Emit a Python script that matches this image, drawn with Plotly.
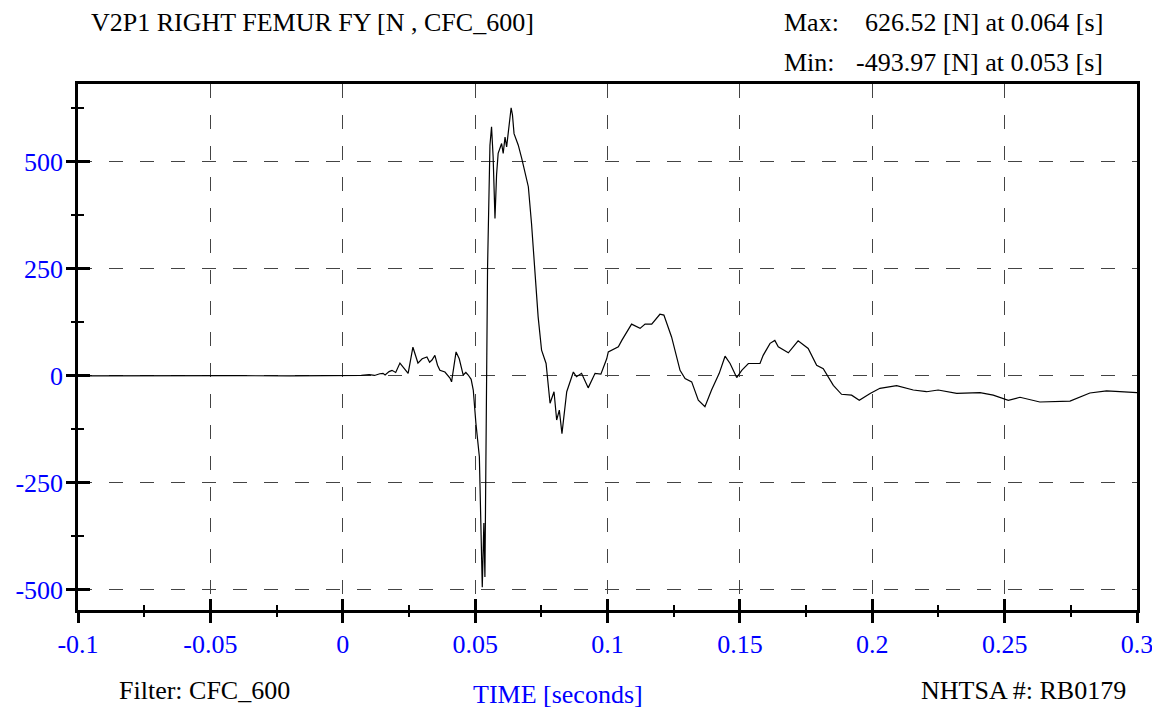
import plotly.graph_objects as go

# hand-read trace of the femur Fy channel
time_s = [-0.100, -0.080, -0.060, -0.040, -0.020, 0.000, 0.004, 0.007, 0.010, 0.012,
          0.014, 0.0152, 0.016, 0.0175, 0.0186, 0.020, 0.0216, 0.023, 0.0247, 0.0265,
          0.0275, 0.0284, 0.030, 0.0318, 0.0328, 0.0337, 0.0348, 0.0358, 0.0367, 0.0386,
          0.0405, 0.0411, 0.0428, 0.044, 0.0455, 0.0465, 0.0474, 0.0485, 0.0493, 0.0503,
          0.0516, 0.0521, 0.0527, 0.0533, 0.0537, 0.0543, 0.0547, 0.0556, 0.0562, 0.0568,
          0.0575, 0.0581, 0.0587, 0.0600, 0.0606, 0.0613, 0.0619, 0.0636, 0.0641, 0.0647,
          0.0663, 0.0676, 0.0701, 0.0713, 0.0726, 0.0738, 0.0751, 0.0768, 0.0783, 0.0798,
          0.0808, 0.0818, 0.0828, 0.0846, 0.0871, 0.0883, 0.0902, 0.0927, 0.0953, 0.0975,
          0.0997, 0.1003, 0.1041, 0.1054, 0.1091, 0.1123, 0.1142, 0.1167, 0.1198, 0.1213,
          0.1242, 0.1274, 0.1293, 0.1318, 0.1343, 0.1368, 0.1393, 0.1422, 0.1444, 0.1463,
          0.1488, 0.1507, 0.1532, 0.1576, 0.1588, 0.1614, 0.1632, 0.1645, 0.1683, 0.1720,
          0.1758, 0.1790, 0.1815, 0.1853, 0.1884, 0.1922, 0.1951, 0.1992, 0.2029, 0.2092,
          0.2155, 0.2205, 0.2249, 0.2319, 0.2407, 0.2457, 0.2514, 0.2558, 0.2633, 0.2747,
          0.2822, 0.2885, 0.2935, 0.3000]
force_n = [0, 0.5, 0, 0.5, 0, 0.5, 0, 1, 3, 1,
           5, 6, 2, 10, 13, 8, 30, 20, 6, 67,
           45, 30, 40, 44, 32, 37, 48, 25, 13, 9,
           -5, -14, 56, 40, 2, 8, 2, -8, -33, -111,
           -189, -314, -493.97, -344, -470, -33, 255, 539, 582, 512,
           368, 470, 520, 543, 520, 558, 535, 626.52, 610, 566,
           539, 508, 442, 356, 247, 138, 60, 29, -64, -37,
           -103, -80, -135, -37, 9, -2, 6, -28, 6, 4,
           40, 56, 68, 83, 121, 111, 121, 121, 144, 142,
           91, 13, -6, -14, -57, -72, -33, 6, 46, 29,
           -4, 13, 29, 29, 48, 76, 83, 68, 54, 82,
           64, 25, 17, -22, -43, -45, -57, -41, -29, -23,
           -33, -37, -33, -41, -39, -45, -57, -50, -61, -59,
           -40, -35, -37, -39]

x_tick_vals = [-0.1, -0.05, 0, 0.05, 0.1, 0.15, 0.2, 0.25, 0.3]
x_tick_text = ["-0.1", "-0.05", "0", "0.05", "0.1", "0.15", "0.2", "0.25", "0.3"]
y_tick_vals = [-500, -250, 0, 250, 500]
y_tick_text = ["-500", "-250", "0", "250", "500"]

FONT = "Liberation Serif"
BLUE = "#0000ff"
x_range = [-0.1, 0.3]
y_range = [-547, 682]

fig = go.Figure()
fig.add_trace(go.Scatter(x=time_s, y=force_n, mode="lines",
                         line=dict(color="black", width=1.2), showlegend=False))
# empty trace so the overlay axes (outside ticks) get drawn
fig.add_trace(go.Scatter(x=[], y=[], xaxis="x2", yaxis="y2", showlegend=False))

grid = dict(showgrid=True, gridcolor="#444444", gridwidth=1, griddash="14px,17px")

# page body adds 8px, so the figure is 8px smaller and shifted margins
fig.update_layout(
    width=1152, height=700,
    margin=dict(l=70, r=23, t=76, b=98),
    paper_bgcolor="white", plot_bgcolor="white",
    font=dict(family=FONT, size=26, color="black"),
    # main axes: inside half of the ticks, labels, grid, frame
    xaxis=dict(range=x_range, tickmode="array", tickvals=x_tick_vals, ticktext=x_tick_text,
               ticks="inside", ticklen=11, tickwidth=2.5, tickcolor="black", ticklabelstandoff=9,
               minor=dict(ticks="inside", ticklen=5, tickwidth=2, tickcolor="black",
                          tick0=0, dtick=0.025, showgrid=False),
               showline=True, linewidth=2.5, linecolor="black", mirror=True, automargin=False,
               zeroline=False, tickfont=dict(family=FONT, size=26, color=BLUE), **grid),
    yaxis=dict(range=y_range, tickmode="array", tickvals=y_tick_vals, ticktext=y_tick_text,
               ticks="inside", ticklen=12, tickwidth=2.5, tickcolor="black", ticklabelstandoff=7,
               minor=dict(ticks="inside", ticklen=6, tickwidth=2, tickcolor="black",
                          tick0=0, dtick=125, showgrid=False),
               showline=True, linewidth=2.5, linecolor="black", mirror=True, automargin=False,
               zeroline=False, tickfont=dict(family=FONT, size=26, color=BLUE), **grid),
    # overlay axes: outside half of the ticks
    xaxis2=dict(range=x_range, overlaying="x", anchor="y2", tickmode="array", tickvals=x_tick_vals,
                ticks="outside", ticklen=12, tickwidth=2.5, tickcolor="black", showticklabels=False,
                minor=dict(ticks="outside", ticklen=6, tickwidth=2, tickcolor="black",
                           tick0=0, dtick=0.025, showgrid=False),
                showgrid=False, zeroline=False, showline=False, automargin=False),
    yaxis2=dict(range=y_range, overlaying="y", anchor="x2", tickmode="array", tickvals=y_tick_vals,
                ticks="outside", ticklen=11, tickwidth=2.5, tickcolor="black", showticklabels=False,
                minor=dict(ticks="outside", ticklen=6, tickwidth=2, tickcolor="black",
                           tick0=0, dtick=125, showgrid=False),
                showgrid=False, zeroline=False, showline=False, automargin=False),
)

def note(text, x, y, xanchor, color="black"):
    fig.add_annotation(text=text, xref="paper", yref="paper", x=x, y=y,
                       xanchor=xanchor, yanchor="middle", showarrow=False, borderpad=0,
                       font=dict(family=FONT, size=26, color=color))

note("V2P1 RIGHT FEMUR FY [N , CFC_600]", 0.0113, 1.1178, "left")
note("Max:", 0.6657, 1.1178, "left")
note("626.52 [N] at 0.064 [s]", 0.9688, 1.1178, "right")
note("Min:", 0.6657, 1.0418, "left")
note("-493.97 [N] at 0.053 [s]", 0.9688, 1.0418, "right")
note("Filter: CFC_600", 0.0378, -0.1521, "left")
note("TIME [seconds]", 0.4533, -0.1597, "center", BLUE)
note("NHTSA #: RB0179", 0.9906, -0.1521, "right")

fig.write_html("out.html")
